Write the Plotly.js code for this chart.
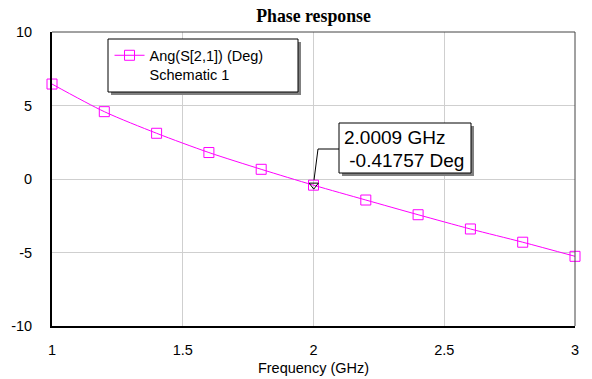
<!DOCTYPE html>
<html>
<head>
<meta charset="utf-8">
<script src="https://cdn.plot.ly/plotly-3.0.1.min.js"></script>
<style>html,body{margin:0;padding:0;background:#fff;}#chart{width:592px;height:379px;}</style>
</head>
<body>
<div id="chart"></div>
<script>
// Data
const freqGHz = [1.0, 1.2, 1.4, 1.6, 1.8, 2.0, 2.2, 2.4, 2.6, 2.8, 3.0];
const phaseDeg = [6.46, 4.58, 3.11, 1.80, 0.66, -0.42, -1.43, -2.43, -3.40, -4.30, -5.26];
const seriesName = "Ang(S[2,1]) (Deg)";
const seriesSub = "Schematic 1";
const markerFreq = [2.0009];
const markerPhase = [-0.41757];
const markerLines = ["2.0009 GHz", "&nbsp;-0.41757 Deg"];
const xTicks = [1, 1.5, 2, 2.5, 3];
const xTickText = ["1", "1.5", "2", "2.5", "3"];
const yTicks = [-10, -5, 0, 5, 10];
const yTickText = ["-10", "-5", "0", "5", "10"];

// pixel helpers for decorations (plot area 52..575 x 32..326)
const px2x = p => 1 + (p - 52) / 261.5;
const px2y = p => (179 - p) / 14.7;

const traces = [
  {
    x: freqGHz, y: phaseDeg, type: 'scatter', mode: 'lines+markers',
    name: seriesName + '<br>' + seriesSub,
    line: {color: '#ff00ff', width: 1, shape: 'spline', smoothing: 0.8},
    marker: {symbol: 'square-open', size: 10, color: '#ff00ff', line: {width: 1, color: '#ff00ff'}},
    cliponaxis: false
  },
  {
    x: markerFreq, y: markerPhase, type: 'scatter', mode: 'markers',
    showlegend: false,
    marker: {symbol: 'triangle-down-open', size: 8, color: '#000', line: {width: 1, color: '#000'}}
  }
];

const shapes = [
  // top & right frame lines
  {type: 'line', xref: 'paper', yref: 'paper', x0: 0, x1: 1, y0: 1, y1: 1, line: {color: '#444', width: 1}},
  {type: 'line', xref: 'paper', yref: 'paper', x0: 1, x1: 1, y0: 0, y1: 1, line: {color: '#444', width: 1}},
  // legend box shadow + box
  {type: 'rect', xref: 'x', yref: 'y', layer: 'above', x0: px2x(111), x1: px2x(301), y0: px2y(42), y1: px2y(95), fillcolor: '#808080', line: {width: 0}},
  {type: 'rect', xref: 'x', yref: 'y', layer: 'above', x0: px2x(108), x1: px2x(298), y0: px2y(39), y1: px2y(92), fillcolor: '#fff', line: {color: '#000', width: 1}},
  // marker readout box shadow + box
  {type: 'rect', xref: 'x', yref: 'y', layer: 'above', x0: px2x(342), x1: px2x(474), y0: px2y(126), y1: px2y(176), fillcolor: '#808080', line: {width: 0}},
  {type: 'rect', xref: 'x', yref: 'y', layer: 'above', x0: px2x(339), x1: px2x(471), y0: px2y(123), y1: px2y(173), fillcolor: '#fff', line: {color: '#000', width: 1}},
  // leader line
  {type: 'path', xref: 'x', yref: 'y', layer: 'above',
   path: 'M ' + px2x(339) + ' ' + px2y(149) + ' L ' + px2x(318) + ' ' + px2y(149) + ' L ' + px2x(314) + ' ' + px2y(180),
   line: {color: '#000', width: 1}}
];

const annoFont = {family: 'Liberation Sans, Arial, sans-serif', size: 19, color: '#000'};
const annotations = [
  {xref: 'x', yref: 'y', x: px2x(342), y: px2y(137.5), xanchor: 'left', yanchor: 'middle', align: 'left',
   text: markerLines[0], showarrow: false, font: annoFont},
  {xref: 'x', yref: 'y', x: px2x(342), y: px2y(160), xanchor: 'left', yanchor: 'middle', align: 'left',
   text: markerLines[1], showarrow: false, font: annoFont}
];

const layout = {
  width: 592, height: 379,
  margin: {l: 52, r: 17, t: 32, b: 53},
  paper_bgcolor: '#fff', plot_bgcolor: '#fff',
  font: {family: 'Liberation Sans, Arial, sans-serif', size: 14.5, color: '#000'},
  title: {text: '<b>Phase response</b>', font: {family: 'Liberation Serif, Times New Roman, serif', size: 17.8, color: '#000'}, x: 0.5296, xanchor: 'center', y: 0.958, yanchor: 'middle'},
  showlegend: true,
  legend: {x: 0.11, y: 0.975, xanchor: 'left', yanchor: 'top', bgcolor: 'rgba(0,0,0,0)', borderwidth: 0, valign: 'top', font: {size: 14.5}, itemwidth: 30},
  xaxis: {
    range: [1, 3], tickvals: xTicks, ticktext: xTickText, showgrid: true, gridcolor: '#cfcfcf', gridwidth: 1,
    zeroline: false, showline: true, linecolor: '#000', linewidth: 2, ticks: '', ticklabelstandoff: 10,
    title: {text: 'Frequency (GHz)', standoff: 5, font: {size: 14.5}}
  },
  yaxis: {
    range: [-10, 10], tickvals: yTicks, ticktext: yTickText, showgrid: true, gridcolor: '#cfcfcf', gridwidth: 1,
    zeroline: false, showline: true, linecolor: '#000', linewidth: 2, ticks: '', ticklabelstandoff: 15
  },
  shapes: shapes,
  annotations: annotations
};

Plotly.newPlot('chart', traces, layout, {displayModeBar: false, staticPlot: true});
</script>
</body>
</html>
